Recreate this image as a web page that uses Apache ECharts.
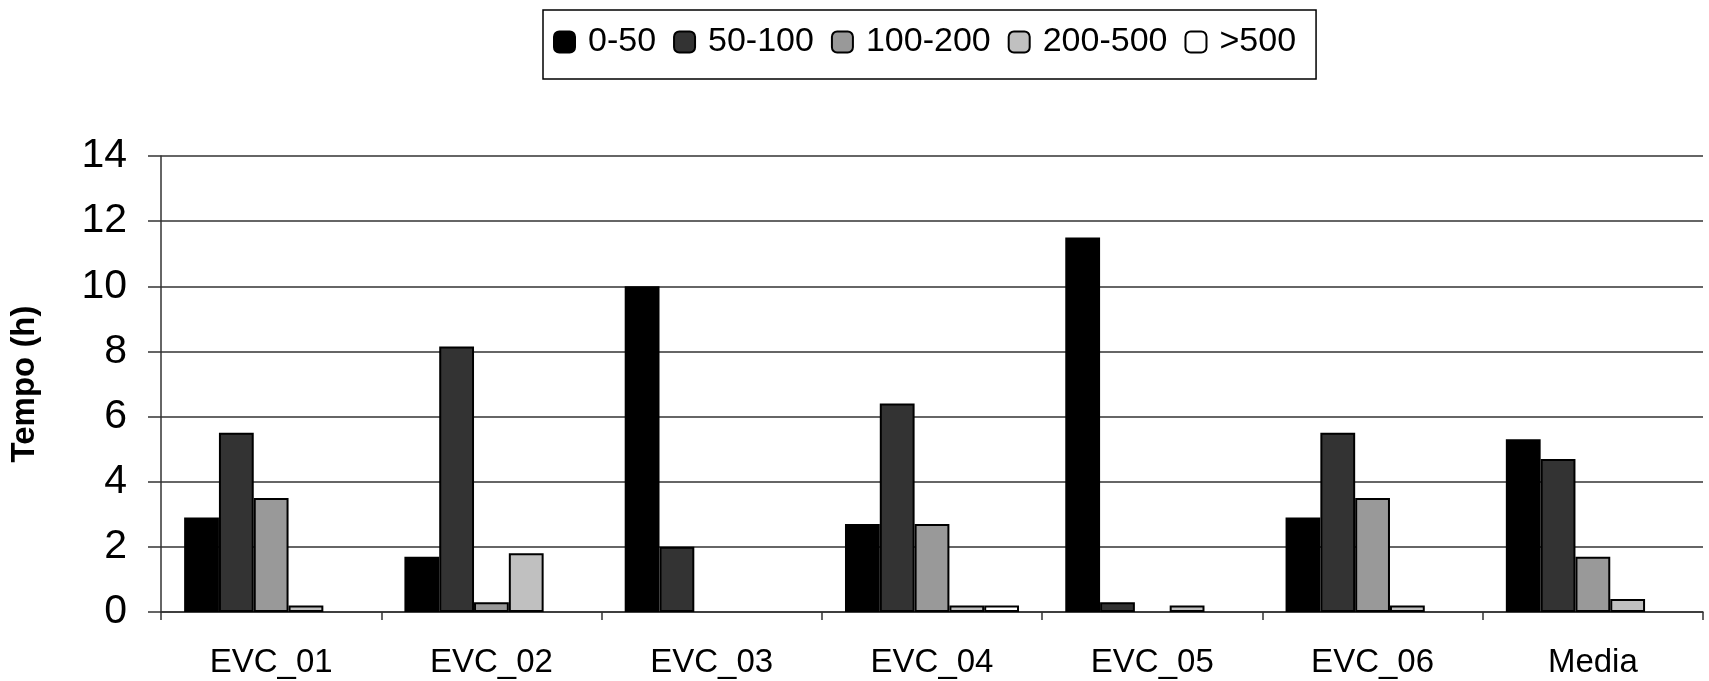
<!DOCTYPE html>
<html>
<head>
<meta charset="utf-8">
<script src="https://cdn.jsdelivr.net/npm/echarts@6/dist/echarts.min.js"></script>
<style>
  html, body { margin: 0; padding: 0; background: #fff; }
  #chart { width: 1709px; height: 681px; }
</style>
</head>
<body>
<div id="chart"></div>
<script>
// categorie e serie (ore)
const categories = ['EVC_01', 'EVC_02', 'EVC_03', 'EVC_04', 'EVC_05', 'EVC_06', 'Media'];
const seriesNames = ['0-50', '50-100', '100-200', '200-500', '>500'];
const v0_50 = [2.9, 1.7, 10.0, 2.7, 11.5, 2.9, 5.3];
const v50_100 = [5.5, 8.15, 2.0, 6.4, 0.3, 5.5, 4.7];
const v100_200 = [3.5, 0.3, 0, 2.7, 0, 3.5, 1.7];
const v200_500 = [0.2, 1.8, 0, 0.2, 0.2, 0.2, 0.4];
const v500 = [0, 0, 0, 0.2, 0, 0, 0];
const yTicks = { min: 0, max: 14, interval: 2 };

const fills = ['#000000', '#333333', '#999999', '#c0c0c0', '#ffffff'];
const allValues = [v0_50, v50_100, v100_200, v200_500, v500];
const font = "'Liberation Sans', Arial, sans-serif";

const chart = echarts.init(document.getElementById('chart'), null, { renderer: 'canvas' });

const option = {
  backgroundColor: '#fff',
  animation: false,
  legend: {
    data: seriesNames,
    left: 543,
    top: 10,
    padding: [14, 20, 19, 10],
    borderColor: '#000',
    borderWidth: 1.5,
    itemWidth: 21,
    itemHeight: 21,
    itemGap: 17,
    textStyle: {
      fontFamily: font,
      fontSize: 34,
      color: '#000',
      lineHeight: 36,
      padding: [0, 0, 0, 8]
    }
  },
  grid: {
    left: 155,
    right: 6,
    top: 156,
    bottom: 69,
    containLabel: false
  },
  xAxis: {
    type: 'category',
    data: categories,
    axisLine: { lineStyle: { color: '#333', width: 1.5 } },
    axisTick: { show: true, length: 8, lineStyle: { color: '#333', width: 1.5 } },
    axisLabel: {
      fontFamily: font,
      fontSize: 33,
      color: '#000',
      margin: 34
    }
  },
  yAxis: {
    type: 'value',
    min: yTicks.min,
    max: yTicks.max,
    interval: yTicks.interval,
    name: 'Tempo (h)',
    nameLocation: 'middle',
    nameGap: 120,
    nameTextStyle: {
      fontFamily: font,
      fontSize: 33,
      fontWeight: 'bold',
      color: '#000'
    },
    axisLine: { show: true, lineStyle: { color: '#333', width: 1.5 } },
    axisTick: { show: true, length: 13, lineStyle: { color: '#333', width: 1.5 } },
    splitLine: { show: true, lineStyle: { color: '#333', width: 1.5 } },
    axisLabel: {
      fontFamily: font,
      fontSize: 41,
      color: '#000',
      margin: 34
    }
  },
  series: seriesNames.map((name, i) => ({
    name: name,
    type: 'bar',
    // zero values are left empty so no flat outline is drawn on the axis
    data: allValues[i].map(v => (v === 0 ? '-' : v)),
    barGap: 0,
    barCategoryGap: '21%',
    itemStyle: {
      color: fills[i],
      borderColor: '#000',
      borderWidth: 2
    }
  }))
};

chart.setOption(option);
</script>
</body>
</html>
